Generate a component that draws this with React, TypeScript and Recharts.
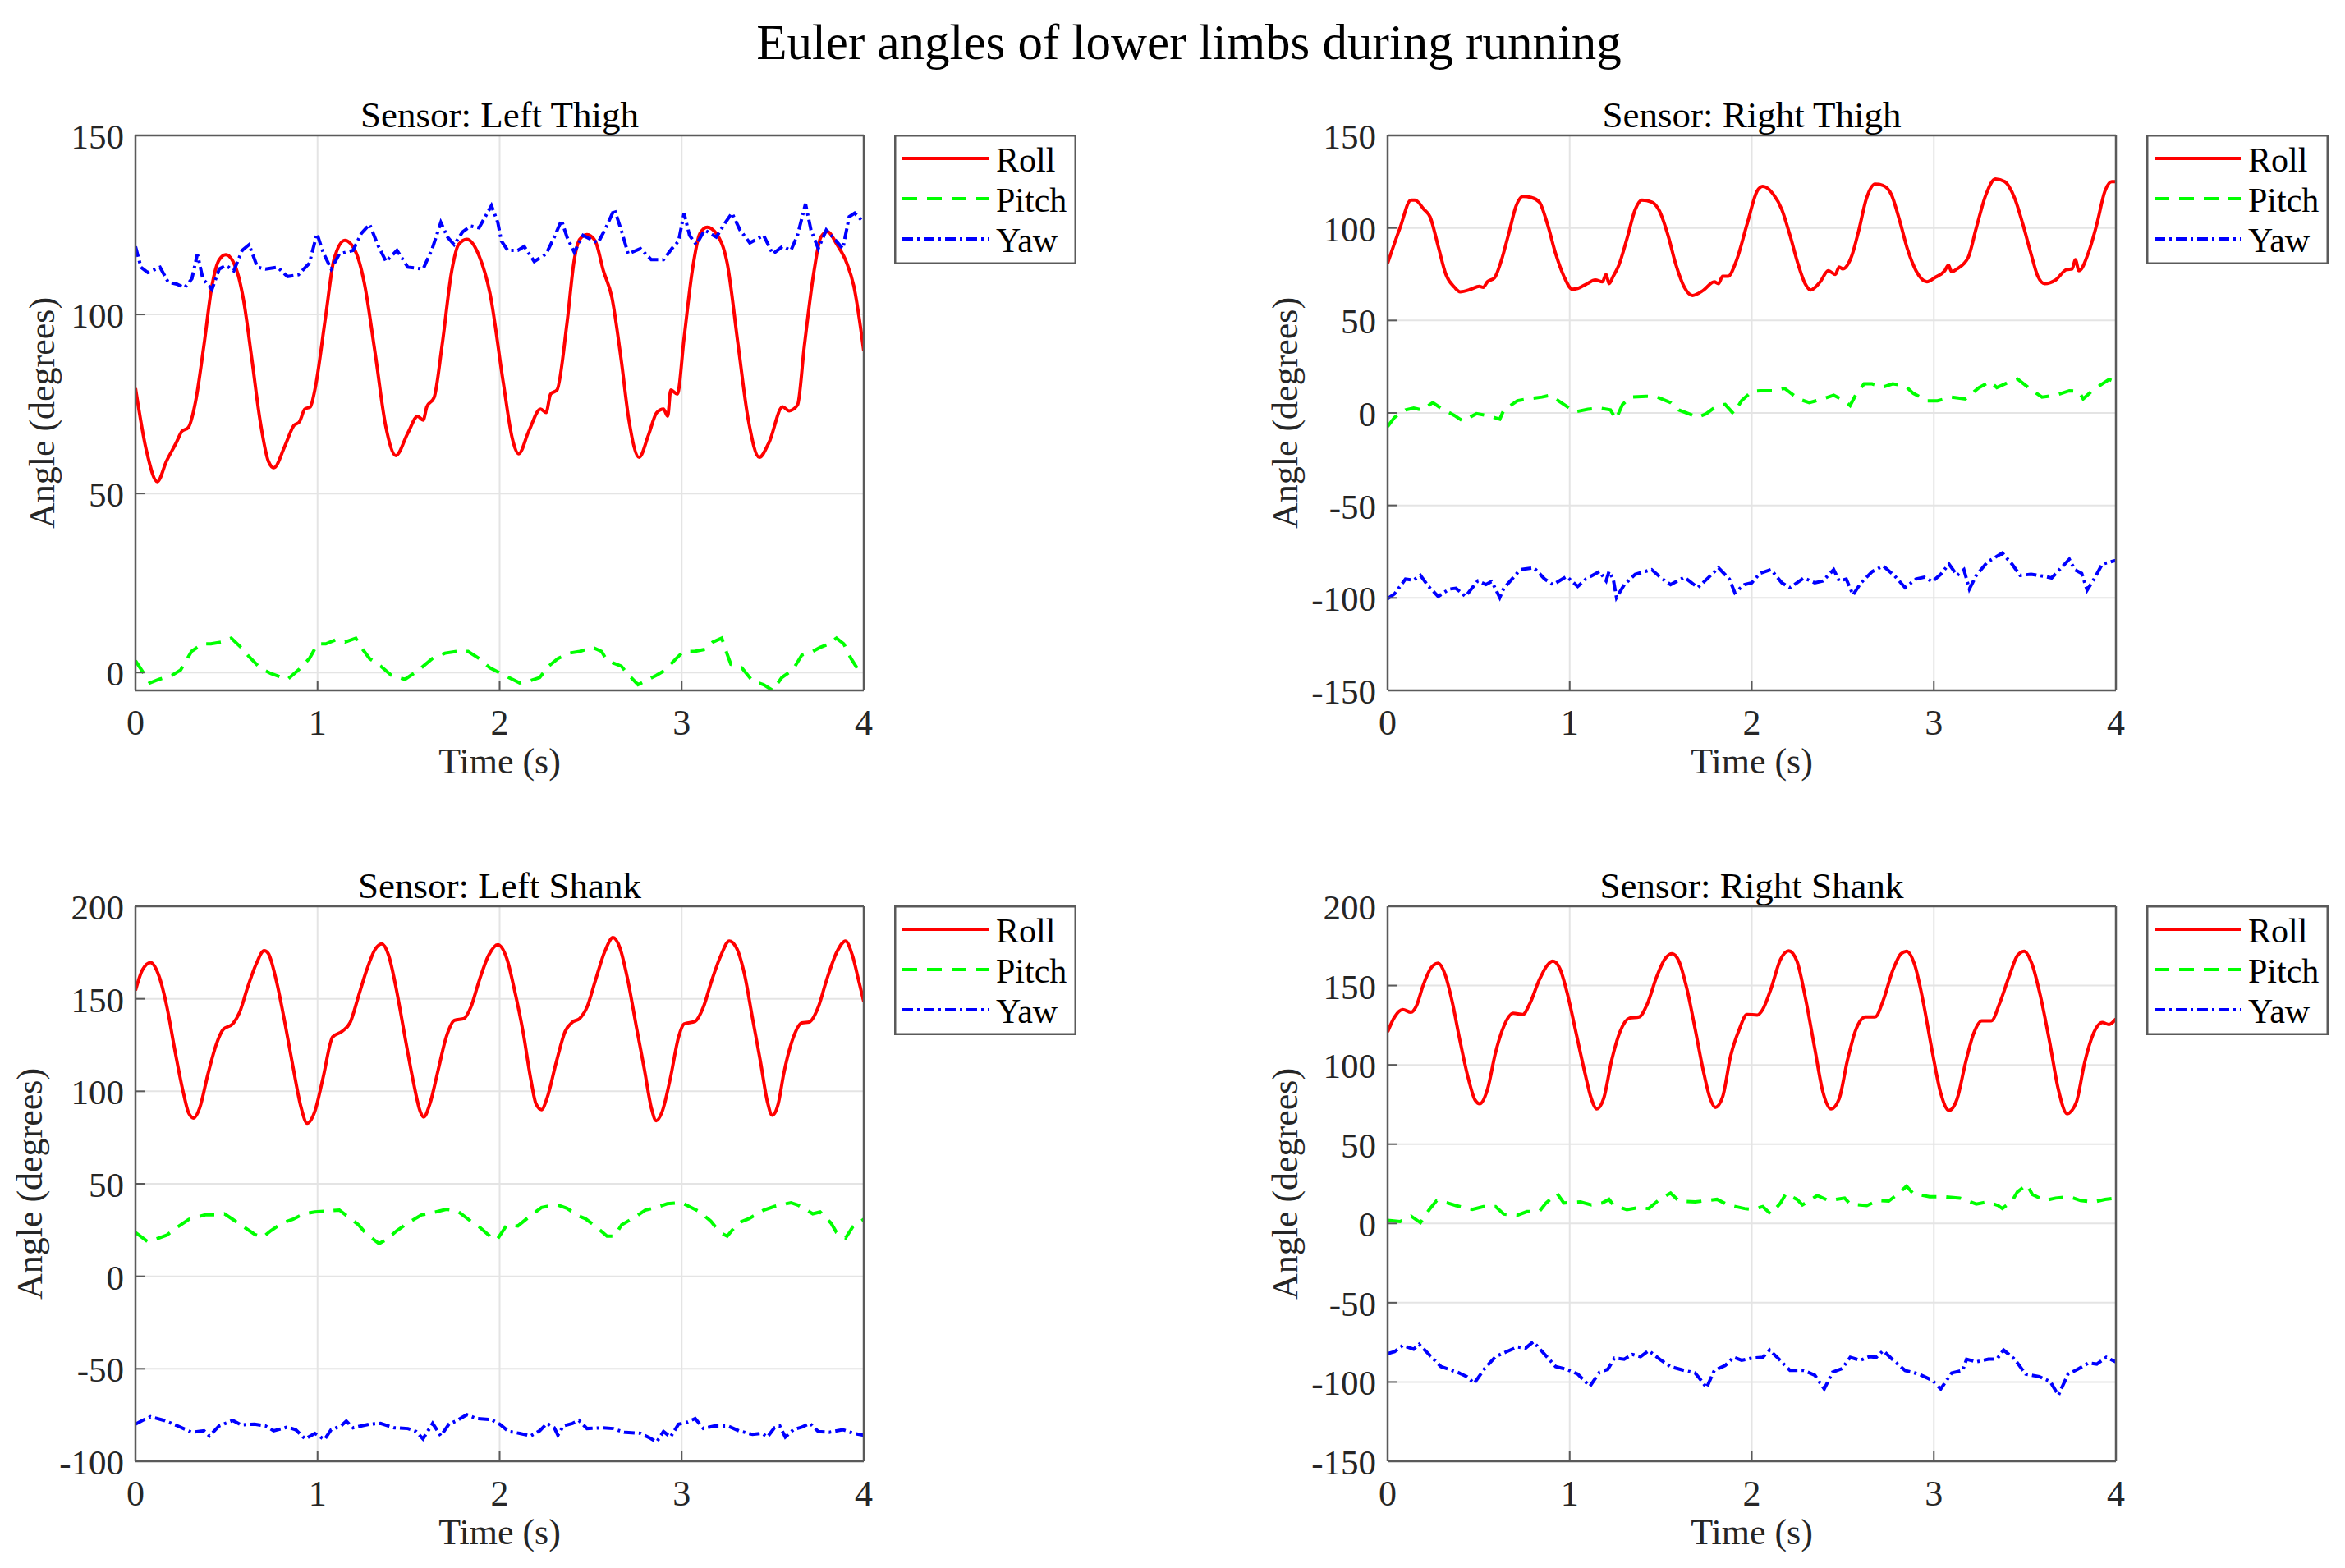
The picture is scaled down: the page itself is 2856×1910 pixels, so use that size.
import React from 'react';
import { LineChart, Line, XAxis, YAxis, CartesianGrid, Legend } from 'recharts';

type Pt = [number, number];

// ---------- data (time in s, angle in degrees) ----------
const timeTicks = [0, 1, 2, 3, 4];
const seriesNames = ['Roll', 'Pitch', 'Yaw'];

const leftThighRoll: Pt[] = [[0,79.4],[0.06,62],[0.12,53.3],[0.17,59],[0.225,64.3],[0.255,67.4],[0.29,68.4],[0.33,75.7],[0.376,91.4],[0.42,108],[0.46,115.3],[0.496,116.7],[0.55,113.2],[0.594,103.9],[0.64,87.2],[0.684,70.5],[0.73,59],[0.76,57.2],[0.82,63.2],[0.87,69],[0.9,70],[0.93,73.6],[0.96,74.2],[0.985,78.9],[1.045,99.7],[1.09,115.3],[1.15,120.7],[1.21,117.4],[1.256,109],[1.316,89.3],[1.376,68.4],[1.43,60.6],[1.496,66.9],[1.55,71.6],[1.58,70.5],[1.6,74.2],[1.64,76.8],[1.684,91.4],[1.737,112.2],[1.774,119.5],[1.82,121],[1.887,116.4],[1.947,105.9],[2.02,81],[2.07,65.3],[2.105,61.1],[2.16,67.4],[2.225,73.6],[2.255,72.6],[2.28,77.8],[2.315,78.9],[2.37,97.6],[2.41,115.3],[2.44,121],[2.48,122.3],[2.525,120.5],[2.57,112.2],[2.616,104.9],[2.668,87.2],[2.71,70.5],[2.766,60.1],[2.818,66.4],[2.863,72.6],[2.9,73.6],[2.923,71.6],[2.94,78.9],[2.976,77.8],[3.013,93.4],[3.058,112.2],[3.1,122.6],[3.14,124.4],[3.19,122.6],[3.25,114.3],[3.31,91.4],[3.366,70.5],[3.426,60.1],[3.48,64.3],[3.554,74.2],[3.59,73.1],[3.636,74.7],[3.674,91.4],[3.727,112.2],[3.764,121.6],[3.8,123.1],[3.853,119.5],[3.907,114.3],[3.945,108],[4,89.8]];
const leftThighPitch: Pt[] = [[0,3.3],[0.04,0.2],[0.08,-2.9],[0.13,-1.9],[0.2,-0.8],[0.248,0.7],[0.308,5.9],[0.368,8],[0.414,8],[0.47,8.5],[0.526,9.6],[0.58,7],[0.624,4.4],[0.684,1.3],[0.744,-0.3],[0.835,-1.9],[0.895,0.7],[0.955,3.9],[1,8],[1.045,8],[1.098,9.1],[1.15,8.5],[1.21,9.6],[1.24,7],[1.286,3.9],[1.346,1.8],[1.406,-0.8],[1.48,-1.9],[1.556,0.7],[1.63,3.9],[1.7,5.4],[1.767,5.9],[1.827,5.9],[1.887,3.9],[1.947,1.3],[2.05,-1.4],[2.11,-2.9],[2.16,-2.4],[2.22,-1.4],[2.27,1.8],[2.32,3.9],[2.38,5.4],[2.44,5.9],[2.51,7],[2.56,5.9],[2.59,3.3],[2.668,1.8],[2.71,-0.8],[2.76,-3.4],[2.8,-2.4],[2.86,-0.8],[2.91,0.7],[2.97,3.9],[3.01,5.9],[3.07,5.9],[3.13,6.5],[3.17,8.5],[3.22,9.6],[3.24,6.5],[3.27,2.3],[3.33,1.3],[3.39,-2.4],[3.45,-3.4],[3.5,-5],[3.55,-1.4],[3.61,0.7],[3.66,4.9],[3.72,5.9],[3.76,7],[3.81,8],[3.85,9.6],[3.89,8],[3.93,3.9],[3.97,0.7],[4,1.3]];
const leftThighYaw: Pt[] = [[0,119],[0.03,113.2],[0.068,111.7],[0.135,113.2],[0.18,109],[0.226,108.5],[0.27,107.5],[0.31,110],[0.34,116.9],[0.37,110],[0.42,107],[0.46,112.7],[0.496,113.7],[0.54,112.2],[0.586,117.9],[0.624,119.5],[0.67,113.2],[0.714,112.7],[0.78,113.2],[0.835,110.6],[0.895,111.1],[0.955,114.3],[0.997,122.6],[1.03,117.4],[1.075,112.7],[1.12,116.9],[1.195,117.9],[1.24,122.6],[1.286,125.2],[1.33,119.5],[1.376,114.8],[1.436,117.9],[1.496,113.2],[1.58,112.7],[1.63,118.4],[1.677,125.7],[1.714,121.6],[1.75,119.5],[1.797,123.1],[1.84,124.7],[1.887,124.2],[1.955,130.4],[1.99,125.7],[2.01,120.5],[2.045,117.9],[2.1,117.9],[2.135,119],[2.19,114.8],[2.255,116.9],[2.3,121.6],[2.34,126.3],[2.37,121.6],[2.41,117.4],[2.458,122.1],[2.54,120],[2.578,123.6],[2.63,129.4],[2.668,123.6],[2.706,116.9],[2.773,118.4],[2.833,115.3],[2.9,115.3],[2.946,118.4],[2.983,120.5],[3.013,128.3],[3.043,122.1],[3.08,119.5],[3.126,123.6],[3.19,121.6],[3.24,125.7],[3.276,128.3],[3.32,123.6],[3.374,120],[3.45,122.1],[3.5,116.9],[3.554,119],[3.6,117.9],[3.636,122.1],[3.68,130.9],[3.71,123.6],[3.75,118.4],[3.794,123.6],[3.84,121],[3.885,118.4],[3.92,127.3],[3.95,128.3],[4,125.7]];

const rightThighRoll: Pt[] = [[0,80.9],[0.068,100],[0.128,115],[0.15,115],[0.2,110],[0.233,106],[0.278,90],[0.32,74.9],[0.368,67.9],[0.398,65.5],[0.458,66.9],[0.503,68.5],[0.525,67.9],[0.548,70.9],[0.586,72.9],[0.623,81.9],[0.668,98],[0.706,112],[0.743,117],[0.788,116.5],[0.833,114],[0.878,102],[0.923,86],[0.968,73.9],[1.014,66.9],[1.044,67.3],[1.096,69.9],[1.14,71.9],[1.18,70.9],[1.2,74.9],[1.216,69.9],[1.239,73.9],[1.27,79.9],[1.314,94],[1.36,110],[1.396,115],[1.45,114],[1.494,109],[1.54,96],[1.584,79.9],[1.63,67.9],[1.674,63.5],[1.734,66.3],[1.794,70.9],[1.817,69.9],[1.84,73.9],[1.87,73.9],[1.914,81.9],[1.974,102],[2.03,120],[2.06,122.5],[2.12,118],[2.165,110],[2.21,96],[2.256,79.9],[2.293,69.9],[2.323,66.5],[2.376,70.9],[2.42,76.9],[2.459,74.9],[2.48,78.9],[2.5,77.9],[2.549,84.9],[2.586,98],[2.63,116],[2.677,123.7],[2.72,123],[2.767,118],[2.812,104],[2.857,88],[2.902,76.9],[2.962,70.9],[3.008,73.3],[3.06,76.9],[3.08,79.9],[3.098,76.3],[3.128,77.9],[3.188,83.9],[3.233,100],[3.286,118],[3.338,126.5],[3.39,125],[3.444,116],[3.489,102],[3.534,85.9],[3.571,73.9],[3.609,69.9],[3.669,71.9],[3.729,77.5],[3.76,77.9],[3.777,82.9],[3.797,76.9],[3.85,86.9],[3.895,102],[3.94,120],[3.977,125],[4,125]];
const rightThighPitch: Pt[] = [[0,-7.4],[0.038,-2.4],[0.098,1.6],[0.143,2.6],[0.188,1.6],[0.248,5.6],[0.293,2.6],[0.368,-1.4],[0.413,-4.4],[0.488,-0.4],[0.548,-1.4],[0.616,-3.4],[0.638,1.6],[0.713,6.6],[0.773,7.6],[0.848,8.6],[0.893,9.6],[0.968,4.6],[1.03,0.6],[1.1,2],[1.164,2.6],[1.224,1.6],[1.254,-3.4],[1.29,4.6],[1.336,8.6],[1.42,9],[1.48,8.6],[1.554,5.6],[1.6,1.6],[1.704,-2.4],[1.75,-0.4],[1.81,4],[1.854,4.6],[1.9,-0.4],[1.944,6.6],[2,11.6],[2.045,12],[2.12,12],[2.18,13.3],[2.256,7.6],[2.316,5.6],[2.39,7.6],[2.45,9.6],[2.51,6.6],[2.54,4],[2.57,9.6],[2.617,15.7],[2.66,15.7],[2.72,14],[2.774,15.7],[2.842,14.7],[2.887,10.6],[2.962,6.6],[3.02,6.6],[3.098,8.6],[3.173,7.6],[3.21,10.6],[3.248,13.7],[3.31,17],[3.346,13.7],[3.414,16.7],[3.46,18.3],[3.534,12.6],[3.594,8.6],[3.669,9.6],[3.744,12],[3.797,11.6],[3.82,7.6],[3.865,11.6],[3.925,15.7],[3.962,18.1],[4,16.7]];
const rightThighYaw: Pt[] = [[0,-100.4],[0.038,-97.8],[0.098,-89.8],[0.143,-90.4],[0.18,-87.8],[0.225,-93.8],[0.278,-99.2],[0.338,-95.2],[0.375,-94.8],[0.428,-99.2],[0.495,-90.8],[0.54,-92.8],[0.57,-91.2],[0.586,-93.8],[0.616,-99.8],[0.638,-94.8],[0.683,-89.8],[0.728,-84.7],[0.803,-83.7],[0.863,-89.8],[0.908,-92.8],[0.983,-88.4],[1.044,-93.8],[1.089,-89.8],[1.164,-85.7],[1.2,-90.8],[1.216,-85.7],[1.239,-89.8],[1.257,-99.8],[1.3,-92.8],[1.36,-87.2],[1.45,-84.7],[1.51,-89.8],[1.554,-92.8],[1.63,-88.8],[1.704,-94.4],[1.764,-88.8],[1.817,-83.7],[1.877,-89.8],[1.907,-97.2],[1.96,-92.8],[2,-91.8],[2.045,-86.7],[2.105,-84.7],[2.165,-91.8],[2.21,-94.4],[2.286,-89.2],[2.346,-91.8],[2.39,-90.8],[2.45,-84.7],[2.48,-90.8],[2.519,-89.8],[2.556,-98.4],[2.6,-91.8],[2.662,-85.7],[2.722,-82.7],[2.782,-87.8],[2.842,-94.4],[2.902,-89.8],[2.947,-88.8],[2.992,-91.2],[3.038,-87.2],[3.083,-81.7],[3.128,-87.8],[3.165,-84.7],[3.195,-95.2],[3.233,-87.8],[3.293,-80.7],[3.376,-75.7],[3.429,-81.7],[3.474,-87.8],[3.534,-87.2],[3.609,-88.4],[3.647,-89.2],[3.7,-83.7],[3.744,-79.1],[3.774,-84.7],[3.812,-86.7],[3.842,-95.8],[3.88,-89.8],[3.925,-81.7],[4,-79.7]];

const leftShankRoll: Pt[] = [[0,154.5],[0.038,165.6],[0.083,169.6],[0.128,162.6],[0.173,145.5],[0.218,121.3],[0.263,99.2],[0.293,88.1],[0.32,85.5],[0.353,91.1],[0.398,109.3],[0.444,125.4],[0.481,133.4],[0.534,136.4],[0.571,142.5],[0.617,156.5],[0.662,168.6],[0.707,176],[0.729,174.6],[0.774,159.6],[0.82,137.4],[0.865,113.3],[0.91,91.1],[0.943,82.7],[0.985,89.1],[1.03,107.2],[1.083,129.4],[1.135,132.4],[1.18,137.4],[1.225,151.5],[1.27,165.6],[1.316,176.7],[1.353,179.7],[1.39,173.6],[1.436,153.5],[1.48,129.4],[1.526,105.2],[1.564,89.1],[1.583,86.1],[1.617,93.2],[1.662,111.3],[1.707,129.4],[1.752,138.4],[1.805,139.4],[1.842,145.5],[1.887,159.6],[1.94,173.6],[1.99,179.3],[2.04,171.6],[2.08,155.5],[2.13,131.4],[2.17,107.2],[2.2,93.2],[2.23,90.1],[2.26,96.2],[2.31,115.3],[2.36,132.4],[2.4,137.4],[2.44,139.4],[2.48,145.5],[2.525,159.6],[2.578,175.7],[2.623,183.1],[2.66,177.7],[2.705,159.6],[2.75,135.4],[2.796,111.3],[2.833,91.1],[2.86,84.1],[2.893,89.1],[2.938,107.2],[2.983,129.4],[3.013,136.4],[3.074,137.8],[3.119,145.5],[3.164,159.6],[3.216,173.6],[3.261,181.3],[3.3,177.7],[3.344,163.6],[3.389,139.4],[3.434,115.3],[3.471,94.2],[3.497,87.1],[3.53,93.2],[3.56,109.3],[3.614,129.4],[3.66,137],[3.7,137.4],[3.75,145.5],[3.794,159.6],[3.854,175.7],[3.9,181.3],[3.937,173.6],[3.975,158.6],[4,148.5]];
const leftShankPitch: Pt[] = [[0,23.7],[0.068,18.7],[0.128,20.7],[0.173,22.3],[0.233,26.8],[0.293,30.8],[0.383,33.2],[0.444,33.2],[0.489,33.8],[0.534,30.8],[0.594,26.8],[0.654,22.7],[0.699,21.1],[0.744,24.7],[0.805,28.8],[0.865,30.8],[0.925,33.8],[0.985,34.8],[1.045,35.2],[1.12,35.8],[1.165,32.4],[1.225,27.8],[1.27,22.7],[1.338,17.7],[1.376,19.7],[1.436,24.7],[1.496,28.8],[1.571,33.2],[1.632,34.4],[1.707,36.2],[1.767,35.4],[1.842,29.8],[1.887,26.8],[1.947,21.7],[1.985,19.7],[2.04,27.8],[2.1,27.2],[2.17,32.8],[2.23,37.2],[2.31,38.8],[2.37,36.8],[2.43,32.8],[2.47,31.2],[2.53,26.8],[2.59,21.7],[2.63,21.7],[2.67,27.8],[2.74,31.8],[2.8,35.8],[2.86,37.2],[2.92,39.2],[3,39.8],[3.04,37.8],[3.1,34.8],[3.16,29.8],[3.21,23.7],[3.25,21.7],[3.31,28.8],[3.37,31.2],[3.45,35.8],[3.51,37.8],[3.6,39.8],[3.64,38.4],[3.72,33.8],[3.76,34.8],[3.82,28.8],[3.85,23.7],[3.9,20.7],[3.94,26.8],[4,30.8]];
const leftShankYaw: Pt[] = [[0,-79.9],[0.038,-77.9],[0.083,-75.9],[0.158,-77.9],[0.233,-80.9],[0.308,-84.3],[0.376,-83.5],[0.406,-86.3],[0.459,-80.9],[0.534,-77.9],[0.579,-80.3],[0.654,-79.9],[0.714,-80.9],[0.759,-83.5],[0.835,-81.5],[0.88,-82.9],[0.932,-87.9],[0.985,-84.9],[1.038,-88.3],[1.075,-82.9],[1.128,-80.9],[1.158,-78.3],[1.195,-81.9],[1.286,-79.9],[1.346,-79.5],[1.421,-81.9],[1.496,-82.3],[1.541,-83.9],[1.579,-87.9],[1.632,-79.5],[1.677,-86.3],[1.722,-79.9],[1.767,-77.9],[1.82,-74.8],[1.872,-76.9],[1.955,-77.5],[2,-79.9],[2.05,-83.9],[2.11,-84.9],[2.17,-86.3],[2.22,-83.5],[2.26,-79.5],[2.3,-81.9],[2.32,-85.9],[2.35,-80.9],[2.4,-79.5],[2.435,-77.9],[2.48,-82.3],[2.563,-81.9],[2.623,-82.3],[2.683,-84.3],[2.773,-84.9],[2.826,-87.5],[2.863,-89.5],[2.9,-83.9],[2.938,-86.9],[2.983,-79.9],[3.029,-78.9],[3.074,-76.9],[3.119,-82.3],[3.179,-80.9],[3.254,-80.9],[3.314,-83.5],[3.389,-85.5],[3.441,-84.9],[3.471,-86.9],[3.509,-81.9],[3.539,-80.9],[3.569,-86.9],[3.614,-82.9],[3.66,-81.5],[3.704,-79.5],[3.75,-83.9],[3.81,-84.3],[3.884,-82.9],[3.944,-84.9],[4,-85.9]];

const rightShankRoll: Pt[] = [[0,120.8],[0.038,130.2],[0.083,134.9],[0.128,133.2],[0.158,137.2],[0.195,150.1],[0.24,161.4],[0.278,164.2],[0.315,157.2],[0.353,140.7],[0.398,114.9],[0.443,91.5],[0.48,77.9],[0.506,75.5],[0.548,84.4],[0.593,107.9],[0.638,124.3],[0.69,132.5],[0.743,131.8],[0.78,138.4],[0.833,153.6],[0.878,163],[0.908,165.4],[0.946,160.7],[0.991,143.1],[1.036,119.6],[1.081,96.2],[1.119,78.6],[1.149,72.2],[1.186,78.6],[1.231,103.2],[1.276,120.8],[1.329,129.5],[1.381,130.2],[1.426,138.4],[1.479,156],[1.524,167],[1.562,170.1],[1.6,165.4],[1.644,147.8],[1.69,122],[1.734,96.2],[1.772,78.6],[1.8,73.2],[1.84,79.8],[1.884,105.6],[1.93,122],[1.974,131.8],[2.03,131.4],[2.06,134.9],[2.105,147.8],[2.158,166.5],[2.203,171.9],[2.248,165.4],[2.293,143.1],[2.346,110.3],[2.39,83.3],[2.436,72.2],[2.48,78.6],[2.526,103.2],[2.571,122],[2.624,130.2],[2.677,130.2],[2.722,140.7],[2.774,159.5],[2.82,170.1],[2.85,171.7],[2.895,163],[2.94,140.7],[2.992,107.9],[3.038,82.1],[3.083,71.3],[3.128,78.6],[3.173,100.9],[3.218,119.6],[3.263,127.8],[3.316,127.8],[3.36,138.4],[3.414,156],[3.459,168.9],[3.496,171.7],[3.541,163],[3.586,143.1],[3.639,112.6],[3.684,84.4],[3.732,69.2],[3.782,76.2],[3.827,100.9],[3.872,118.5],[3.925,126.7],[3.962,125.5],[4,129]];
const rightShankPitch: Pt[] = [[0,1.9],[0.068,1.2],[0.128,4.7],[0.18,0.5],[0.233,9.4],[0.27,14.5],[0.33,12.9],[0.375,11.3],[0.465,8.9],[0.526,10.6],[0.593,10.6],[0.638,5.9],[0.713,5.2],[0.766,7.5],[0.833,7.5],[0.87,12.9],[0.931,18.8],[0.968,12.9],[1.059,13.6],[1.119,11.7],[1.179,12.9],[1.216,15.2],[1.239,11.7],[1.314,8.7],[1.374,9.9],[1.434,9.4],[1.494,15.2],[1.554,19.2],[1.6,14.1],[1.689,13.6],[1.809,15.2],[1.869,11.7],[1.96,9.4],[2,8.9],[2.06,10.6],[2.105,5.9],[2.158,12.9],[2.188,18.8],[2.248,15.2],[2.278,11.7],[2.36,17.6],[2.42,14.5],[2.51,16],[2.541,12.2],[2.632,11.3],[2.692,14.5],[2.752,14.1],[2.805,18.8],[2.85,23.5],[2.887,18.8],[2.977,16.9],[3.053,16.9],[3.143,16],[3.233,12.2],[3.293,13.6],[3.353,11.3],[3.376,9.4],[3.429,14.1],[3.459,19.9],[3.511,24.6],[3.541,18.3],[3.609,14.5],[3.669,16],[3.744,16.9],[3.805,14.5],[3.88,13.6],[3.94,15.2],[4,16]];
const rightShankYaw: Pt[] = [[0,-82.1],[0.038,-80.9],[0.083,-76.9],[0.143,-79.3],[0.173,-76.2],[0.233,-83.3],[0.293,-90.3],[0.383,-93.8],[0.435,-96.6],[0.476,-100.8],[0.533,-91.5],[0.593,-84],[0.653,-80.9],[0.713,-77.9],[0.758,-78.6],[0.8,-74.6],[0.863,-82.6],[0.923,-90.3],[0.983,-92],[1.044,-95],[1.111,-102.7],[1.164,-93.8],[1.209,-92],[1.246,-84.9],[1.299,-85.6],[1.344,-82.6],[1.389,-84],[1.434,-80.2],[1.494,-85.6],[1.554,-90.3],[1.629,-92.7],[1.689,-94.3],[1.727,-99.7],[1.752,-103.7],[1.794,-92.7],[1.854,-89.6],[1.9,-84.4],[1.944,-86.3],[2,-84.9],[2.06,-84.4],[2.098,-79.8],[2.15,-85.6],[2.21,-92.7],[2.286,-92.7],[2.346,-95.7],[2.398,-104.4],[2.444,-93.8],[2.496,-91.5],[2.541,-84.4],[2.594,-86.3],[2.647,-84],[2.684,-84.4],[2.722,-80.2],[2.782,-86.8],[2.842,-92.7],[2.917,-95],[2.992,-99],[3.038,-104.4],[3.098,-94.3],[3.158,-92.7],[3.18,-85.6],[3.233,-87.3],[3.3,-85.6],[3.346,-85.6],[3.383,-79.8],[3.444,-85.6],[3.504,-95],[3.579,-96.6],[3.639,-99.7],[3.684,-108.4],[3.737,-95],[3.789,-92],[3.85,-88],[3.895,-88.7],[3.947,-84.4],[4,-87.3]];

const ticksLeftThigh = [0, 50, 100, 150];
const ticksRightThigh = [-150, -100, -50, 0, 50, 100, 150];
const ticksLeftShank = [-100, -50, 0, 50, 100, 150, 200];
const ticksRightShank = [-150, -100, -50, 0, 50, 100, 150, 200];

// ---------- styling ----------
const FONT = '"Liberation Serif", "Times New Roman", Times, serif';
const AXIS = '#5a5a5a';
const TEXT = '#262626';
const GRID = '#e4e4e4';
const PLOT_W = 887;
const PLOT_H = 676;
const Y_AXIS_W = 165;
const X_AXIS_H = 120;
const TOP_PAD = 30;
const TICK_LEN = 12;

const seriesStyle: Record<string, { color: string; dash?: string; curve: 'monotone' | 'linear' }> = {
  Roll: { color: '#ff0000', curve: 'monotone' },
  Pitch: { color: '#00ff00', dash: '18 12', curve: 'linear' },
  Yaw: { color: '#0000ff', dash: '13 5 3 5', curve: 'linear' },
};

const toPoints = (arr: Pt[]) => arr.map(([t, v]) => ({ t, v }));

const BottomTick = (props: any) => {
  const { x, y, payload } = props;
  return (
    <g>
      <line x1={x} y1={y} x2={x} y2={y - TICK_LEN} stroke={AXIS} strokeWidth={2} />
      <text x={x} y={y + 54} textAnchor="middle" fontFamily={FONT} fontSize={44} fill={TEXT}>
        {payload.value}
      </text>
    </g>
  );
};
const TopTick = (props: any) => {
  const { x, y } = props;
  return <line x1={x} y1={y} x2={x} y2={y + TICK_LEN} stroke={AXIS} strokeWidth={2} />;
};
const LeftTick = (props: any) => {
  const { x, y, payload } = props;
  return (
    <g>
      <line x1={x} y1={y} x2={x + TICK_LEN} y2={y} stroke={AXIS} strokeWidth={2} />
      <text x={x - 14} y={y + 16} textAnchor="end" fontFamily={FONT} fontSize={43} fill={TEXT}>
        {payload.value}
      </text>
    </g>
  );
};
const RightTick = (props: any) => {
  const { x, y } = props;
  return <line x1={x} y1={y} x2={x - TICK_LEN} y2={y} stroke={AXIS} strokeWidth={2} />;
};

const renderLegend = (props: any) => {
  const raw = (props.payload || []) as any[];
  const items = [...raw].sort((a, b) => seriesNames.indexOf(a.value) - seriesNames.indexOf(b.value));
  return (
    <svg width={222} height={158} style={{ display: 'block' }}>
      <rect x={1.25} y={1.25} width={219.5} height={155.5} fill="#ffffff" stroke={AXIS} strokeWidth={2.5} />
      {items.map((it, i) => {
        const st = seriesStyle[it.value] || { color: it.color };
        const ly = 29 + i * 49;
        return (
          <g key={String(it.value)}>
            <line x1={10} x2={115} y1={ly} y2={ly} stroke={st.color} strokeWidth={4} strokeDasharray={st.dash} />
            <text x={124} y={ly + 16} fontFamily={FONT} fontSize={42} fill="#000">
              {it.value}
            </text>
          </g>
        );
      })}
    </svg>
  );
};

type PanelProps = {
  plotLeft: number;
  plotTop: number;
  domain: [number, number];
  ticks: number[];
  roll: Pt[];
  pitch: Pt[];
  yaw: Pt[];
};

function Panel({ plotLeft, plotTop, domain, ticks, roll, pitch, yaw }: PanelProps) {
  const chartLeft = plotLeft - Y_AXIS_W;
  const chartTop = plotTop - TOP_PAD;
  const width = Y_AXIS_W + PLOT_W + 1 + 24;
  const height = TOP_PAD + PLOT_H + X_AXIS_H;
  const series: Record<string, Pt[]> = { Roll: roll, Pitch: pitch, Yaw: yaw };
  return (
    <div style={{ position: 'absolute', left: chartLeft, top: chartTop, width, height }}>
      <LineChart width={width} height={height} margin={{ top: TOP_PAD - 1, right: 24, bottom: 0, left: 0 }}>
        <CartesianGrid stroke={GRID} strokeWidth={2} />
        <XAxis
          xAxisId={0}
          dataKey="t"
          type="number"
          domain={[0, 4]}
          ticks={timeTicks}
          interval={0}
          height={X_AXIS_H}
          tickSize={0}
          tickMargin={0}
          tickLine={false}
          axisLine={{ stroke: AXIS, strokeWidth: 2.5 }}
          tick={<BottomTick />}
          allowDataOverflow
        />
        <XAxis
          xAxisId="top"
          orientation="top"
          dataKey="t"
          type="number"
          domain={[0, 4]}
          ticks={timeTicks}
          interval={0}
          height={1}
          tickSize={0}
          tickMargin={0}
          tickLine={false}
          axisLine={{ stroke: AXIS, strokeWidth: 2.5 }}
          tick={<TopTick />}
        />
        <YAxis
          yAxisId={0}
          type="number"
          domain={domain}
          ticks={ticks}
          interval={0}
          width={Y_AXIS_W}
          tickSize={0}
          tickMargin={0}
          tickLine={false}
          axisLine={{ stroke: AXIS, strokeWidth: 2.5 }}
          tick={<LeftTick />}
          allowDataOverflow
        />
        <YAxis
          yAxisId="right"
          orientation="right"
          type="number"
          domain={domain}
          ticks={ticks}
          interval={0}
          width={1}
          tickSize={0}
          tickMargin={0}
          tickLine={false}
          axisLine={{ stroke: AXIS, strokeWidth: 2.5 }}
          tick={<RightTick />}
        />
        {seriesNames.map((name) => {
          const st = seriesStyle[name];
          return (
            <Line
              key={name}
              name={name}
              xAxisId={0}
              yAxisId={0}
              data={toPoints(series[name])}
              dataKey="v"
              type={st.curve}
              stroke={st.color}
              strokeWidth={4}
              strokeDasharray={st.dash}
              dot={false}
              activeDot={false}
              isAnimationActive={false}
            />
          );
        })}
        <Legend
          layout="vertical"
          align="center"
          verticalAlign="middle"
          content={renderLegend}
          wrapperStyle={{ position: 'absolute', left: Y_AXIS_W + PLOT_W + 37, top: TOP_PAD - 1, width: 222, height: 158 }}
        />
      </LineChart>
    </div>
  );
}

const panels = [
  { key: 'lt', title: 'Sensor: Left Thigh', plotLeft: 165, plotTop: 165, domain: [-5, 150] as [number, number], ticks: ticksLeftThigh, roll: leftThighRoll, pitch: leftThighPitch, yaw: leftThighYaw, ylabX: 66 },
  { key: 'rt', title: 'Sensor: Right Thigh', plotLeft: 1690, plotTop: 165, domain: [-150, 150] as [number, number], ticks: ticksRightThigh, roll: rightThighRoll, pitch: rightThighPitch, yaw: rightThighYaw, ylabX: 1580 },
  { key: 'ls', title: 'Sensor: Left Shank', plotLeft: 165, plotTop: 1104, domain: [-100, 200] as [number, number], ticks: ticksLeftShank, roll: leftShankRoll, pitch: leftShankPitch, yaw: leftShankYaw, ylabX: 51 },
  { key: 'rs', title: 'Sensor: Right Shank', plotLeft: 1690, plotTop: 1104, domain: [-150, 200] as [number, number], ticks: ticksRightShank, roll: rightShankRoll, pitch: rightShankPitch, yaw: rightShankYaw, ylabX: 1580 },
];

export default function App() {
  return (
    <div style={{ position: 'absolute', left: 0, top: 0, width: 2856, height: 1910, background: '#ffffff', overflow: 'hidden', fontFamily: FONT }}>
      {panels.map((p) => (
        <Panel key={p.key} plotLeft={p.plotLeft} plotTop={p.plotTop} domain={p.domain} ticks={p.ticks} roll={p.roll} pitch={p.pitch} yaw={p.yaw} />
      ))}
      <svg width={2856} height={1910} style={{ position: 'absolute', left: 0, top: 0, pointerEvents: 'none' }}>
        <text x={1448} y={72} textAnchor="middle" fontFamily={FONT} fontSize={61} fill="#000">
          Euler angles of lower limbs during running
        </text>
        {panels.map((p) => {
          const cx = p.plotLeft + PLOT_W / 2;
          const cy = p.plotTop + PLOT_H / 2;
          return (
            <g key={p.key}>
              <text x={cx} y={p.plotTop - 10} textAnchor="middle" fontFamily={FONT} fontSize={45} fill="#000">
                {p.title}
              </text>
              <text x={cx} y={p.plotTop + PLOT_H + 101} textAnchor="middle" fontFamily={FONT} fontSize={44} fill={TEXT}>
                Time (s)
              </text>
              <text x={p.ylabX} y={cy} textAnchor="middle" transform={`rotate(-90 ${p.ylabX} ${cy})`} fontFamily={FONT} fontSize={44} fill={TEXT}>
                Angle (degrees)
              </text>
            </g>
          );
        })}
      </svg>
    </div>
  );
}
